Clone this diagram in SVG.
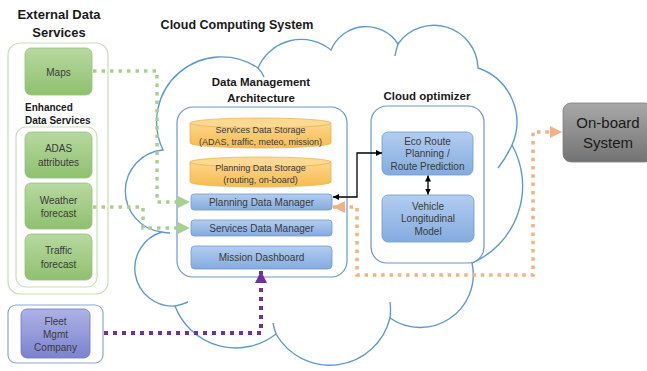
<svg xmlns="http://www.w3.org/2000/svg" width="647" height="371" viewBox="0 0 647 371">
  <defs>
    <linearGradient id="gGreen" x1="0" y1="0" x2="0" y2="1">
      <stop offset="0" stop-color="#b7d9a0"/>
      <stop offset="1" stop-color="#8fc06f"/>
    </linearGradient>
    <linearGradient id="gBlue" x1="0" y1="0" x2="0" y2="1">
      <stop offset="0" stop-color="#b2cdf0"/>
      <stop offset="1" stop-color="#84abdf"/>
    </linearGradient>
    <linearGradient id="gOrange" x1="0" y1="0" x2="0" y2="1">
      <stop offset="0" stop-color="#fcd68c"/>
      <stop offset="1" stop-color="#f6bb4f"/>
    </linearGradient>
    <linearGradient id="gPurple" x1="0" y1="0" x2="0" y2="1">
      <stop offset="0" stop-color="#aeb2e6"/>
      <stop offset="1" stop-color="#7b82cf"/>
    </linearGradient>
    <linearGradient id="gGray" x1="0" y1="0" x2="0" y2="1">
      <stop offset="0" stop-color="#a8a8a8"/>
      <stop offset="1" stop-color="#737373"/>
    </linearGradient>
    <marker id="mGreen" markerUnits="userSpaceOnUse" markerWidth="12" markerHeight="12" refX="12" refY="6" orient="auto">
      <path d="M0,0 L12,6 L0,12 z" fill="#a9d18e"/>
    </marker>
    <marker id="mOrange" markerUnits="userSpaceOnUse" markerWidth="12" markerHeight="12" refX="12" refY="6" orient="auto-start-reverse">
      <path d="M0,0 L12,6 L0,12 z" fill="#f4b183"/>
    </marker>
    <marker id="mPurple" markerUnits="userSpaceOnUse" markerWidth="12" markerHeight="12" refX="12" refY="6" orient="auto">
      <path d="M0,0 L12,6 L0,12 z" fill="#7030a0"/>
    </marker>
    <marker id="mBlack" markerUnits="userSpaceOnUse" markerWidth="6" markerHeight="6" refX="6" refY="3" orient="auto-start-reverse">
      <path d="M0,0 L6,3 L0,6 z" fill="#000"/>
    </marker>
  </defs>
  <style>
    text { font-family: "Liberation Sans", Arial, sans-serif; fill: #3a3a3a; }
    .title { font-weight: bold; fill: #1a1a1a; text-anchor: middle; }
    .sub { font-weight: bold; fill: #1a1a1a; }
    .lbl { font-size: 10px; text-anchor: middle; }
    .cyl { font-size: 9px; text-anchor: middle; }
    .cloud { fill: none; stroke: #5b9bd5; stroke-width: 1.4; }
    .frame { fill: #fff; stroke: #6a97cf; stroke-width: 1.2; }
    .green { fill: url(#gGreen); stroke: #94c179; stroke-width: 0.8; }
    .blue { fill: url(#gBlue); stroke: #7099cf; stroke-width: 0.8; }
    .store { fill: url(#gOrange); stroke: #efb24d; stroke-width: 0.8; }
    .storetop { fill: #fdd993; stroke: #efb24d; stroke-width: 0.8; }
    .dotG { fill: none; stroke: #a9d18e; stroke-width: 3.5; stroke-dasharray: 3.5 5; }
    .dotO { fill: none; stroke: #f4b183; stroke-width: 3.5; stroke-dasharray: 3.5 4.8; }
    .dotP { fill: none; stroke: #7030a0; stroke-width: 4; stroke-dasharray: 4 5; }
    .solid { fill: none; stroke: #000; stroke-width: 1.3; }
  </style>

  <!-- Cloud outline of the computing system -->
  <g id="cloud">
    <path class="cloud" d="M163,150 A65,65 0 0 1 258,68 A47,47 0 0 1 331,50 A38,38 0 0 1 398,44 A44,44 0 0 1 478,68 A57,57 0 0 1 512,145 A84,84 0 0 1 472,263 A53,53 0 0 1 390,318 A62,62 0 0 1 276,334 A65,65 0 0 1 175,306 A37.8,37.8 0 0 1 162,232 A41.2,41.2 0 0 1 163,150 Z"/>
    <path class="cloud" d="M258,68 Q262,72 264,77 M398,44 Q396,50 395,56 M512,145 Q506,158 498,168 M390,302 Q391,310 390,318 M276,334 Q274,328 273,323 M175,306 Q181,305 188,302 M162,232 Q166,233 170,233"/>
    <text class="title" x="237" y="29" font-size="12.5">Cloud Computing System</text>
  </g>

  <!-- External data services -->
  <g id="external-data-services">
    <text class="title" x="59" y="19" font-size="13">External Data</text>
    <text class="title" x="59" y="37" font-size="13">Services</text>
    <rect x="8" y="43" width="100" height="251" rx="12" fill="#fff" stroke="#c5e0b4" stroke-width="1.2"/>
  </g>
  <g id="maps">
    <rect class="green" x="25" y="48" width="67" height="47" rx="6"/>
    <text class="lbl" x="58.5" y="75.5">Maps</text>
  </g>
  <g id="enhanced-data-services">
    <text class="sub" x="25" y="111" font-size="10">Enhanced</text>
    <text class="sub" x="25" y="124" font-size="10">Data Services</text>
    <rect x="16" y="127" width="81" height="160" rx="10" fill="#fff" stroke="#c5e0b4" stroke-width="1.2"/>
  </g>
  <g id="adas-attributes">
    <rect class="green" x="25" y="132" width="67" height="46" rx="6"/>
    <text class="lbl" x="58.5" y="152">ADAS</text>
    <text class="lbl" x="58.5" y="166">attributes</text>
  </g>
  <g id="weather-forecast">
    <rect class="green" x="25" y="183" width="67" height="46" rx="6"/>
    <text class="lbl" x="58.5" y="203.5">Weather</text>
    <text class="lbl" x="58.5" y="217">forecast</text>
  </g>
  <g id="traffic-forecast">
    <rect class="green" x="25" y="234" width="67" height="46" rx="6"/>
    <text class="lbl" x="58.5" y="254">Traffic</text>
    <text class="lbl" x="58.5" y="268">forecast</text>
  </g>

  <!-- Fleet management -->
  <g id="fleet-mgmt-company">
    <rect x="8" y="305" width="95" height="58" rx="8" fill="#fff" stroke="#8ea6d2" stroke-width="1.2"/>
    <rect x="21" y="309" width="69" height="49" rx="6" fill="url(#gPurple)" stroke="#6e77c4" stroke-width="0.8"/>
    <text class="lbl" x="55.5" y="325">Fleet</text>
    <text class="lbl" x="55.5" y="338">Mgmt</text>
    <text class="lbl" x="55.5" y="351">Company</text>
  </g>

  <!-- Data management architecture -->
  <g id="data-management-architecture">
    <text class="title" x="261" y="86" font-size="11.5">Data Management</text>
    <text class="title" x="261" y="102" font-size="11.5">Architecture</text>
    <rect class="frame" x="177" y="107" width="170" height="170" rx="16"/>
  </g>
  <g id="services-data-storage">
    <path class="store" d="M190,123 V143 A70.5,5 0 0 0 331,143 V123 Z"/>
    <ellipse class="storetop" cx="260.5" cy="123" rx="70.5" ry="5"/>
    <text class="cyl" x="260.5" y="133">Services Data Storage</text>
    <text class="cyl" x="260.5" y="145">(ADAS, traffic, meteo, mission)</text>
  </g>
  <g id="planning-data-storage">
    <path class="store" d="M190,162 V182 A70.5,5 0 0 0 331,182 V162 Z"/>
    <ellipse class="storetop" cx="260.5" cy="162" rx="70.5" ry="5"/>
    <text class="cyl" x="260.5" y="171">Planning Data Storage</text>
    <text class="cyl" x="260.5" y="183">(routing, on-board)</text>
  </g>
  <g id="planning-data-manager">
    <rect class="blue" x="191" y="194" width="141" height="16" rx="3"/>
    <text class="lbl" x="261.5" y="205.5">Planning Data Manager</text>
  </g>
  <g id="services-data-manager">
    <rect class="blue" x="191" y="220" width="141" height="16" rx="3"/>
    <text class="lbl" x="261.5" y="231.5">Services Data Manager</text>
  </g>
  <g id="mission-dashboard">
    <rect class="blue" x="191" y="246" width="141" height="23" rx="4"/>
    <text class="lbl" x="261.5" y="261">Mission Dashboard</text>
  </g>

  <!-- Cloud optimizer -->
  <g id="cloud-optimizer">
    <text class="title" x="427" y="100" font-size="11.5">Cloud optimizer</text>
    <rect class="frame" x="371" y="106" width="113" height="157" rx="16"/>
  </g>
  <g id="eco-route-planning">
    <rect class="blue" x="382" y="132" width="91" height="43" rx="6"/>
    <text class="lbl" x="427.5" y="145">Eco Route</text>
    <text class="lbl" x="427.5" y="157">Planning /</text>
    <text class="lbl" x="427.5" y="169.5">Route Prediction</text>
  </g>
  <g id="vehicle-longitudinal-model">
    <rect class="blue" x="382" y="195" width="92" height="47" rx="6"/>
    <text class="lbl" x="428" y="209.5">Vehicle</text>
    <text class="lbl" x="428" y="222">Longitudinal</text>
    <text class="lbl" x="428" y="234.5">Model</text>
  </g>

  <!-- On-board system -->
  <g id="on-board-system">
    <rect x="563" y="103" width="90" height="59" rx="8" fill="url(#gGray)" stroke="#808080" stroke-width="0.8"/>
    <text x="608" y="128" font-size="15" text-anchor="middle" style="fill:#1a1a1a">On-board</text>
    <text x="608" y="148" font-size="15" text-anchor="middle" style="fill:#1a1a1a">System</text>
  </g>

  <!-- Connectors -->
  <g id="connectors">
    <path class="dotG" d="M93,71 H157 V202 H190" marker-end="url(#mGreen)"/>
    <path class="dotG" d="M93,207 H143 V228 H190" marker-end="url(#mGreen)"/>
    <path class="dotP" d="M104,333 H261 V271" marker-end="url(#mPurple)"/>
    <path class="dotO" d="M333,207 H357 V275 H533 V132 H562" marker-start="url(#mOrange)" marker-end="url(#mOrange)"/>
    <path class="solid" d="M333,197 H357 V153 H382" marker-start="url(#mBlack)" marker-end="url(#mBlack)"/>
    <path class="solid" d="M428,175.5 V194.5" marker-start="url(#mBlack)" marker-end="url(#mBlack)"/>
  </g>
</svg>
